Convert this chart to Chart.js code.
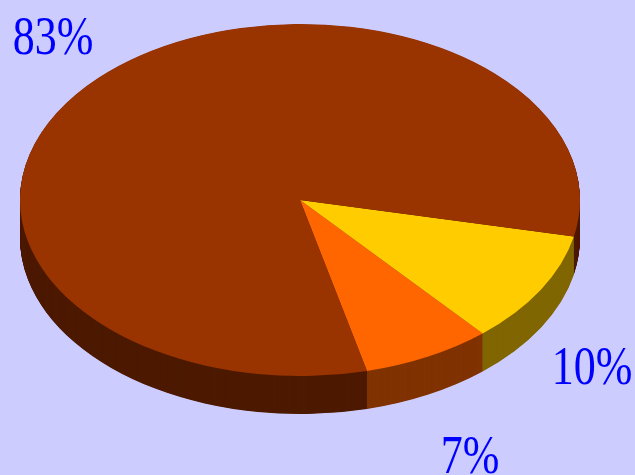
<!DOCTYPE html>
<html>
<head>
<meta charset="utf-8">
<title>Pie</title>
<script src="https://cdn.jsdelivr.net/npm/chart.js@4"></script>
<style>
  html, body { margin: 0; padding: 0; background: #ccccff; overflow: hidden; }
  canvas { display: block; filter: blur(0.5px); }
</style>
</head>
<body>
<canvas id="pie" width="635" height="475"></canvas>
<script>
// slices start at the yellow one and go clockwise
const categories = ["a", "b", "c"];
const sliceValues = [10.4, 7.49, 82.5];
const sliceLabels = ["10%", "7%", "83%"];
const topColors = ["#ffcc00", "#ff6600", "#993300"];
const sideColors = ["#806600", "#803300", "#4d1a00"];

// where the flattened pie goes on the page
const pieX = 300, pieY = 200, radiusX = 280, radiusY = 176, depth = 38;
// text centre x and baseline y
const labelSpots = [[592, 384], [470, 473], [53, 54]];

const pie3d = {
  id: "pie3d",
  beforeDatasetsDraw(chart) {
    const ctx = chart.ctx;
    const arcs = chart.getDatasetMeta(0).data;
    const cx = arcs[0].x, cy = arcs[0].y, r = arcs[0].outerRadius;

    const layer = (offset, colors) => {
      ctx.save();
      ctx.translate(pieX, pieY + offset);
      ctx.scale(radiusX / r, radiusY / r);
      ctx.translate(-cx, -cy);
      arcs.forEach((arc, i) => {
        const keep = arc.options.backgroundColor;
        arc.options.backgroundColor = colors[i];
        arc.draw(ctx);
        arc.options.backgroundColor = keep;
      });
      ctx.restore();
    };

    for (let d = depth; d > 0; d -= 0.5) layer(d, sideColors);
    layer(0, topColors);
    return false;
  },
  afterDraw(chart) {
    const ctx = chart.ctx;
    ctx.save();
    ctx.fillStyle = "#0000ff";
    ctx.font = "55px 'Liberation Serif'";
    ctx.textAlign = "center";
    ctx.textBaseline = "alphabetic";
    sliceLabels.forEach((t, i) => {
      ctx.save();
      ctx.translate(labelSpots[i][0], labelSpots[i][1]);
      ctx.scale(0.8, 1); // the type is narrow in the original
      ctx.fillText(t, 0, 0);
      ctx.restore();
    });
    ctx.restore();
  }
};

new Chart(document.getElementById("pie"), {
  type: "pie",
  data: {
    labels: categories,
    datasets: [{ data: sliceValues, backgroundColor: topColors, borderWidth: 0 }]
  },
  options: {
    responsive: false,
    animation: false,
    rotation: 102,
    plugins: { legend: { display: false }, tooltip: { enabled: false } }
  },
  plugins: [pie3d]
});
</script>
</body>
</html>
